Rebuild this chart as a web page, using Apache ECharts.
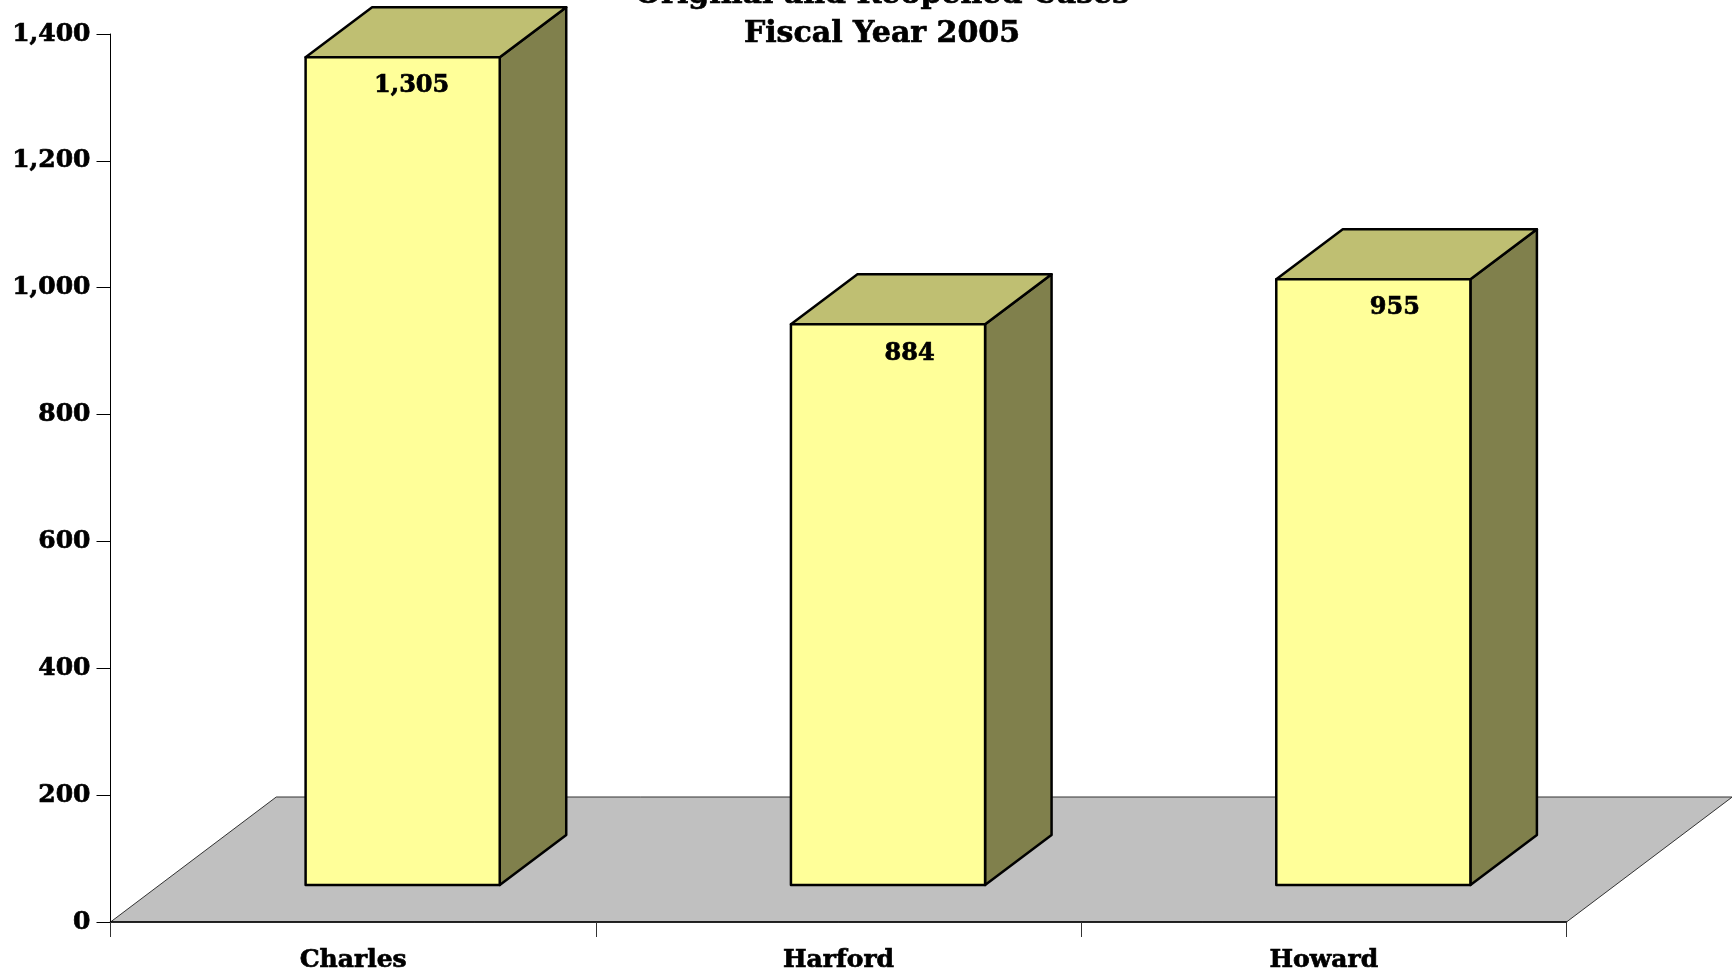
<!DOCTYPE html>
<html>
<head>
<meta charset="utf-8">
<style>html,body{margin:0;padding:0;background:#fff}#chart{width:1732px;height:976px}</style>
<script src="https://cdn.jsdelivr.net/npm/echarts@6/dist/echarts.min.js"></script>
</head>
<body>
<div id="chart"></div>
<script>
var categories = ['Charles', 'Harford', 'Howard'];
var caseCounts = [1305, 884, 955];
var titleLines = ['Original and Reopened Cases', 'Fiscal Year 2005'];
var fontFamily = '"DejaVu Serif", serif';

// Pseudo-3D projection, expressed relative to one category band.
var floorDepthX = 0.3415, floorDepthY = 125;
var barWidthShare = 0.4, barShiftShare = 0.102, barLift = 37;
var sideShiftX = 66.5, sideShiftY = 50;
var labelRightShare = 0.296, labelDrop = 29;

function renderFloor(params, api) {
  var origin = api.coord([0, 0]);
  var band = api.size([1, 0])[0];
  var left = origin[0] - band / 2;
  var right = left + band * categories.length;
  var y = origin[1], dx = band * floorDepthX;
  return {
    type: 'polygon',
    shape: { points: [[left, y], [right, y], [right + dx, y - floorDepthY], [left + dx, y - floorDepthY]] },
    style: { fill: '#C0C0C0', stroke: '#333', lineWidth: 1 },
    silent: true
  };
}

function renderBar(params, api) {
  var base = api.coord([api.value(0), 0]);
  var top = api.coord([api.value(0), api.value(1)]);
  var band = api.size([1, 0])[0];
  var w = band * barWidthShare;
  var x0 = base[0] + band * barShiftShare - w / 2;
  var x1 = x0 + w;
  var yb = base[1] - barLift;
  var yt = top[1] - barLift;
  var dx = sideShiftX, dy = sideShiftY;
  var edge = { stroke: '#000', lineWidth: 2.5, lineJoin: 'round' };
  function face(points, fill) {
    return { type: 'polygon', shape: { points: points }, style: Object.assign({ fill: fill }, edge) };
  }
  return {
    type: 'group',
    children: [
      face([[x1, yb], [x1 + dx, yb - dy], [x1 + dx, yt - dy], [x1, yt]], '#80804C'),
      face([[x0, yt], [x1, yt], [x1 + dx, yt - dy], [x0 + dx, yt - dy]], '#BFBF72'),
      face([[x0, yb], [x1, yb], [x1, yt], [x0, yt]], '#FFFF99'),
      {
        type: 'text',
        style: {
          x: x0 + band * labelRightShare, y: yt + labelDrop,
          text: api.value(1).toLocaleString('en-US'),
          align: 'right', verticalAlign: 'middle',
          font: 'bold 24px ' + fontFamily, fill: '#000',
          stroke: '#000', lineWidth: 0.7
        }
      }
    ]
  };
}

var chart = echarts.init(document.getElementById('chart'), null, { renderer: 'canvas' });
chart.setOption({
  animation: false,
  backgroundColor: '#fff',
  title: {
    text: titleLines.join('\n'),
    left: 877, top: -29, textAlign: 'center',
    textStyle: { fontFamily: fontFamily, fontWeight: 'bold', fontSize: 30, lineHeight: 39, color: '#000',
      textBorderColor: '#000', textBorderWidth: 0.7 }
  },
  grid: { left: 110.5, right: 165.5, top: 34, bottom: 54, containLabel: false },
  xAxis: {
    type: 'category', data: categories, z: 5,
    axisLine: { lineStyle: { color: '#000', width: 1.5 } },
    axisTick: { show: true, alignWithLabel: false, length: 15, lineStyle: { color: '#333', width: 1 } },
    axisLabel: { margin: 26, color: '#000', fontFamily: fontFamily, fontWeight: 'bold', fontSize: 25,
      textBorderColor: '#000', textBorderWidth: 0.7 },
    splitLine: { show: false }
  },
  yAxis: {
    type: 'value', min: 0, max: 1400, interval: 200, z: 5,
    axisLine: { show: true, lineStyle: { color: '#000', width: 1 } },
    axisTick: { show: true, length: 14, lineStyle: { color: '#000', width: 1 } },
    axisLabel: {
      margin: 20, color: '#000', fontFamily: fontFamily, fontWeight: 'bold', fontSize: 25,
      padding: [8, 0, 0, 0], textBorderColor: '#000', textBorderWidth: 0.7,
      formatter: function (v) { return v.toLocaleString('en-US'); }
    },
    splitLine: { show: false }
  },
  series: [
    { type: 'custom', name: 'floor', z: 1, silent: true, data: [[0, 0]], renderItem: renderFloor,
      encode: { x: 0, y: 1 } },
    { type: 'custom', name: 'cases', z: 3, silent: true,
      data: caseCounts.map(function (v, i) { return [i, v]; }),
      renderItem: renderBar, encode: { x: 0, y: 1 } }
  ]
});
</script>
</body>
</html>
